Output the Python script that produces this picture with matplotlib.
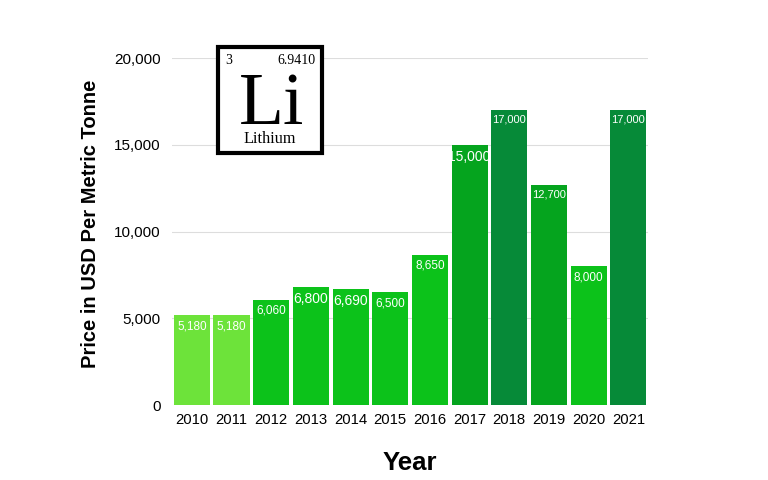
import matplotlib.pyplot as plt
from matplotlib.patches import Rectangle

plt.rcParams['font.family'] = ['Liberation Sans', 'DejaVu Sans']

years = ["2010", "2011", "2012", "2013", "2014", "2015",
         "2016", "2017", "2018", "2019", "2020", "2021"]
prices = [5180, 5180, 6060, 6800, 6690, 6500, 8650, 15000, 17000, 12700, 8000, 17000]
bar_colors = ["#6de33a", "#6de33a", "#0cc21a", "#0cc21a", "#0cc21a", "#0cc21a",
              "#0cc21a", "#05a41e", "#068a38", "#05a41e", "#0cc21a", "#068a38"]
label_sizes = [8.5, 8.5, 8.5, 10, 10, 8.5, 8.5, 10, 8, 8, 8.5, 8]

fig = plt.figure(figsize=(7.68, 4.8), dpi=100)
ax = fig.add_axes([0.224, 0.156, 0.62, 0.723])

x = range(len(years))
ax.bar(x, prices, width=0.91, color=bar_colors, zorder=2)
for i, v in enumerate(prices):
    ax.text(i, v - 280, f"{v:,}", ha="center", va="top", color="white",
            fontsize=label_sizes[i], zorder=3)

ax.set_xlim(-0.5, len(years) - 0.5)
ax.set_ylim(0, 20000)
ax.set_yticks([0, 5000, 10000, 15000, 20000])
ax.set_yticklabels(["0", "5,000", "10,000", "15,000", "20,000"], fontsize=11)
ax.set_xticks(list(x))
ax.set_xticklabels(years, fontsize=10.7)
ax.grid(axis="y", color="#dddddd", linewidth=0.8, zorder=0)
for s in ax.spines.values():
    s.set_visible(False)
ax.tick_params(axis="both", length=0, pad=6)
ax.tick_params(axis="y", pad=8)

ax.set_xlabel("Year", fontsize=18.5, fontweight="bold", labelpad=17)
ax.set_ylabel("Price in USD Per Metric Tonne", fontsize=14.5, fontweight="bold")
ax.yaxis.set_label_coords(-0.152, 0.522)

# element tile
box = Rectangle((218 / 768, 1 - 153 / 480), 104 / 768, 106 / 480,
                transform=fig.transFigure, fill=True, facecolor="white",
                edgecolor="black", linewidth=3, zorder=5)
fig.patches.append(box)
serif = ["Liberation Serif", "DejaVu Serif"]
fig.text(225 / 768, 1 - 60 / 480, "3", family=serif, fontsize=10, va="center", zorder=6)
fig.text(316 / 768, 1 - 60 / 480, "6.9410", family=serif, fontsize=10,
         va="center", ha="right", zorder=6)
fig.text(272 / 768, 1 - 124 / 480, "Li", family=serif, fontsize=53,
         va="baseline", ha="center", zorder=6)
fig.text(270 / 768, 1 - 139 / 480, "Lithium", family=serif, fontsize=11.7,
         va="center", ha="center", zorder=6)

fig.savefig("out.png", dpi=100)
